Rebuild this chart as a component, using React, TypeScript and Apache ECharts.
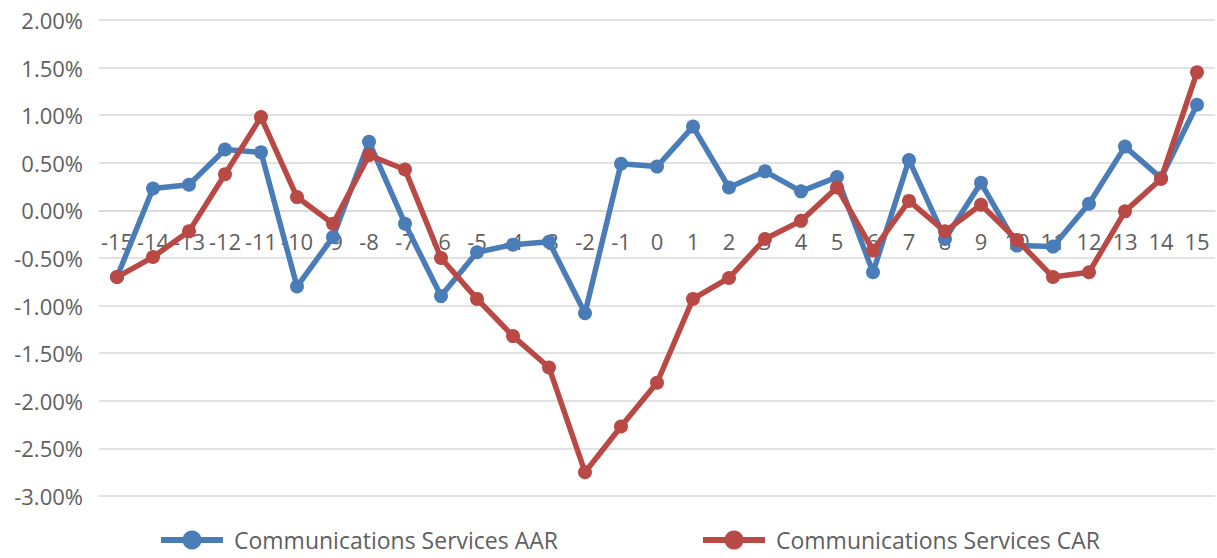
import React, { useEffect, useRef } from "react";
import * as echarts from "echarts";

const categories = [
  "-15", "-14", "-13", "-12", "-11", "-10", "-9", "-8", "-7", "-6", "-5", "-4", "-3", "-2", "-1",
  "0", "1", "2", "3", "4", "5", "6", "7", "8", "9", "10", "11", "12", "13", "14", "15",
];

const aarValues = [
  -0.7, 0.23, 0.27, 0.64, 0.61, -0.8, -0.28, 0.72, -0.14, -0.9, -0.44, -0.36, -0.33, -1.08, 0.49,
  0.46, 0.88, 0.24, 0.41, 0.2, 0.35, -0.65, 0.53, -0.3, 0.29, -0.37, -0.38, 0.07, 0.67, 0.34, 1.11,
];

const carValues = [
  -0.7, -0.49, -0.22, 0.38, 0.98, 0.14, -0.14, 0.58, 0.43, -0.5, -0.93, -1.32, -1.65, -2.75, -2.27,
  -1.81, -0.93, -0.71, -0.3, -0.11, 0.24, -0.42, 0.1, -0.22, 0.06, -0.31, -0.7, -0.65, -0.01, 0.33, 1.45,
];

const yTicks = { min: -3, max: 2, interval: 0.5 };

const seriesNames = ["Communications Services AAR", "Communications Services CAR"];
const colors = ["#4a7db8", "#b94945"];

const CHART_W = 1217;
const CHART_H = 558;
const GRID_TOP = 20;
const GRID_BOTTOM = 62;

export default function App() {
  const ref = useRef<HTMLDivElement>(null);

  useEffect(() => {
    if (!ref.current) return;
    const chart = echarts.init(ref.current, null, { renderer: "svg" });
    const font = "'Open Sans', 'Noto Sans', sans-serif";
    const textColor = "#5f5f5f";
    const gridH = CHART_H - GRID_TOP - GRID_BOTTOM;
    // place the category axis at value 0 of the value axis
    const zeroOffset = -(gridH * (0 - yTicks.min)) / (yTicks.max - yTicks.min);
    const legendText = {
      fontSize: 23,
      lineHeight: 24,
      color: textColor,
      fontFamily: font,
      padding: [0, 0, 0, 6],
    };
    const legendBase = {
      top: 528,
      padding: 0,
      itemWidth: 62,
      itemHeight: 24,
      lineStyle: { width: 6 },
      textStyle: legendText,
    };
    chart.setOption({
      animation: false,
      backgroundColor: "#ffffff",
      grid: { left: 99, right: 2, top: GRID_TOP, bottom: GRID_BOTTOM, containLabel: false },
      legend: [
        { ...legendBase, data: [seriesNames[0]], left: 158 },
        { ...legendBase, data: [seriesNames[1]], left: 700 },
      ],
      xAxis: {
        type: "category",
        data: categories,
        boundaryGap: true,
        offset: zeroOffset,
        axisTick: { show: false },
        axisLine: { show: true, onZero: false, lineStyle: { color: "#d9d9d9", width: 1.5 } },
        axisLabel: {
          interval: 0,
          hideOverlap: false,
          margin: 20,
          fontSize: 22,
          color: textColor,
          fontFamily: font,
        },
        splitLine: { show: false },
        z: 0,
      },
      yAxis: {
        type: "value",
        min: yTicks.min,
        max: yTicks.max,
        interval: yTicks.interval,
        axisLine: { show: false },
        axisTick: { show: false },
        axisLabel: {
          margin: 16,
          fontSize: 22,
          color: textColor,
          fontFamily: font,
          formatter: (v: number) => v.toFixed(2) + "%",
        },
        splitLine: { lineStyle: { color: "#d9d9d9", width: 1.5 } },
      },
      series: [
        {
          name: seriesNames[0],
          type: "line",
          data: aarValues,
          symbol: "circle",
          symbolSize: 14,
          lineStyle: { color: colors[0], width: 5.5 },
          itemStyle: { color: colors[0] },
          z: 3,
        },
        {
          name: seriesNames[1],
          type: "line",
          data: carValues,
          symbol: "circle",
          symbolSize: 14,
          lineStyle: { color: colors[1], width: 5.5 },
          itemStyle: { color: colors[1] },
          z: 4,
        },
      ],
    });
    return () => chart.dispose();
  }, []);

  return (
    <div
      ref={ref}
      style={{ position: "absolute", left: 0, top: 0, width: CHART_W, height: CHART_H }}
    />
  );
}
